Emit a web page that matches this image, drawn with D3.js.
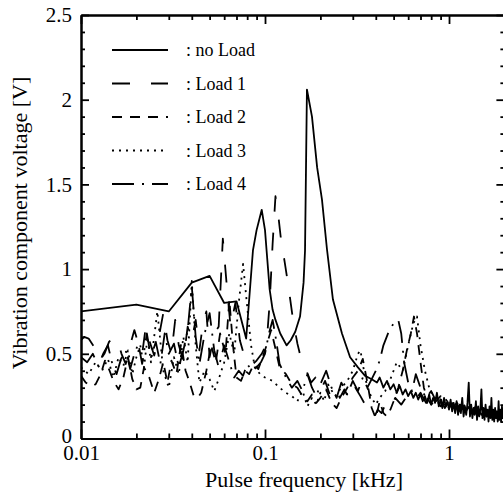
<!DOCTYPE html>
<html><head><meta charset="utf-8">
<script src="https://cdn.jsdelivr.net/npm/d3@7"></script>
<style>
html,body{margin:0;padding:0;background:#fff;}
svg{display:block;}
text{font-family:'Liberation Serif','Times New Roman',Times,serif;}
</style></head>
<body><svg id="c" width="503" height="495"></svg>
<script>
// ---------- data (frequency kHz, voltage V) ----------
const seriesNames = ["no Load", "Load 1", "Load 2", "Load 3", "Load 4"];
const xTickValues = [0.01, 0.1, 1];
const xTickLabels = ["0.01", "0.1", "1"];
const yTickValues = [0, 0.5, 1, 1.5, 2, 2.5];
const yTickLabels = ["0", "0.5", "1", "1.5", "2", "2.5"];

const noLoad = [
[0.010,0.75],[0.020,0.79],[0.030,0.75],[0.040,0.92],[0.050,0.96],[0.060,0.80],[0.070,0.81],[0.079,0.59],[0.086,1.11],[0.090,1.23],[0.096,1.35],[0.100,1.23],[0.102,1.11],[0.106,0.88],[0.110,0.76],[0.114,0.70],[0.121,0.62],[0.131,0.55],[0.138,0.58],[0.146,0.63],[0.155,0.72],[0.162,0.92],[0.165,1.11],[0.169,2.06],[0.180,1.90],[0.192,1.60],[0.204,1.41],[0.217,1.12],[0.234,0.82],[0.262,0.62],[0.290,0.48],[0.320,0.42],[0.350,0.37],[0.380,0.35],[0.406,0.33],[0.42,0.36],[0.44,0.30],[0.46,0.34],[0.48,0.29],[0.50,0.32],[0.52,0.27],[0.54,0.31],[0.56,0.26],[0.58,0.29],[0.60,0.25],[0.62,0.28],[0.64,0.24],[0.66,0.27],[0.68,0.23],[0.70,0.26],[0.72,0.22],[0.74,0.25],[0.76,0.21],[0.78,0.26],[0.80,0.20],[0.82,0.24],[0.84,0.21],[0.86,0.27],[0.88,0.19],[0.90,0.23],[0.92,0.18],[0.94,0.24],[0.96,0.19],[0.98,0.22],[1.00,0.17],[1.02,0.23],[1.04,0.16],[1.06,0.21],[1.08,0.15],[1.10,0.22],[1.12,0.14],[1.14,0.20],[1.16,0.15],[1.18,0.24],[1.20,0.13],[1.22,0.19],[1.24,0.14],[1.26,0.21],[1.28,0.33],[1.30,0.13],[1.32,0.20],[1.34,0.12],[1.36,0.18],[1.38,0.14],[1.40,0.22],[1.42,0.11],[1.44,0.19],[1.46,0.13],[1.48,0.17],[1.50,0.29],[1.52,0.12],[1.54,0.18],[1.56,0.11],[1.58,0.20],[1.60,0.13],[1.62,0.17],[1.64,0.10],[1.66,0.19],[1.68,0.12],[1.70,0.24],[1.72,0.11],[1.74,0.17],[1.76,0.10],[1.78,0.18],[1.80,0.12],[1.82,0.16],[1.84,0.10],[1.86,0.22],[1.88,0.11],[1.90,0.17],[1.92,0.10],[1.94,0.19],[1.96,0.12],[1.98,0.16],[2.00,0.11]
];

const load1 = [
[0.0100,0.58],[0.0104,0.60],[0.0110,0.59],[0.0118,0.54],[0.0126,0.46],[0.0134,0.50],[0.0142,0.57],[0.0150,0.60],[0.0158,0.58],[0.0166,0.50],[0.0175,0.44],[0.0185,0.55],[0.0195,0.64],[0.0205,0.56],[0.0215,0.50],[0.0225,0.66],[0.0238,0.56],[0.0250,0.49],[0.0265,0.60],[0.0280,0.74],[0.0295,0.58],[0.0310,0.50],[0.0325,0.70],[0.0340,0.55],[0.0360,0.46],[0.0380,0.66],[0.0400,0.58],[0.0420,0.70],[0.0440,0.52],[0.0460,0.68],[0.0480,0.75],[0.0500,0.48],[0.0530,0.62],[0.0560,0.66],[0.0590,1.18],[0.0620,0.90],[0.0650,0.66],[0.0690,0.80],[0.0730,0.58],[0.0780,0.47],[0.0840,0.43],[0.0900,0.46],[0.0960,0.50],[0.1020,0.56],[0.1060,0.80],[0.1100,1.15],[0.1140,1.43],[0.1180,1.32],[0.1220,1.18],[0.1280,1.04],[0.1340,0.90],[0.1420,0.70],[0.1500,0.56],[0.1580,0.46],[0.1680,0.40],[0.1780,0.33],[0.1880,0.36],[0.2000,0.28],[0.2120,0.34],[0.2250,0.26],[0.2400,0.31],[0.2550,0.24],[0.2700,0.29],[0.2900,0.22],[0.3100,0.30],[0.3300,0.25],[0.3500,0.20],[0.3700,0.16],[0.3900,0.12],[0.4100,0.17],[0.4300,0.15],[0.4500,0.20],[0.4800,0.17],[0.5100,0.24],[0.5500,0.20],[0.6000,0.26],[0.6500,0.22],[0.7000,0.27],[0.7500,0.21],[0.8000,0.25],[0.8500,0.20],[0.9000,0.23],[0.9500,0.18],[1.00,0.22],[1.05,0.17],[1.10,0.21],[1.15,0.16],[1.20,0.19],[1.30,0.15],[1.40,0.18],[1.50,0.14],[1.60,0.17],[1.70,0.13],[1.80,0.16],[1.90,0.12],[2.00,0.14]
];

const load2 = [
[0.0100,0.37],[0.0106,0.33],[0.0113,0.31],[0.0120,0.32],[0.0128,0.38],[0.0135,0.46],[0.0143,0.40],[0.0150,0.34],[0.0160,0.29],[0.0170,0.36],[0.0180,0.48],[0.0190,0.35],[0.0200,0.29],[0.0210,0.30],[0.0220,0.42],[0.0235,0.36],[0.0250,0.27],[0.0265,0.35],[0.0280,0.45],[0.0295,0.33],[0.0310,0.46],[0.0330,0.38],[0.0350,0.56],[0.0370,0.40],[0.0390,0.33],[0.0410,0.25],[0.0430,0.24],[0.0450,0.27],[0.0480,0.40],[0.0510,0.55],[0.0540,0.45],[0.0570,0.62],[0.0610,0.50],[0.0640,0.82],[0.0670,0.55],[0.0700,0.36],[0.0740,0.34],[0.0780,0.40],[0.0820,0.38],[0.0870,0.44],[0.0920,0.41],[0.0970,0.48],[0.1020,0.55],[0.1080,0.64],[0.1140,0.53],[0.1200,0.42],[0.1300,0.38],[0.1400,0.32],[0.1500,0.30],[0.1600,0.25],[0.1700,0.22],[0.1800,0.26],[0.1900,0.21],[0.2000,0.24],[0.2150,0.29],[0.2300,0.21],[0.2450,0.18],[0.2600,0.24],[0.2800,0.30],[0.3000,0.36],[0.3200,0.40],[0.3400,0.47],[0.3600,0.33],[0.3800,0.18],[0.4000,0.12],[0.4200,0.22],[0.4400,0.15],[0.4600,0.13],[0.4800,0.17],[0.5000,0.22],[0.5300,0.30],[0.5600,0.40],[0.5900,0.52],[0.6200,0.62],[0.6450,0.72],[0.6700,0.62],[0.7000,0.45],[0.7300,0.30],[0.7600,0.24],[0.8000,0.20],[0.8500,0.23],[0.9000,0.19],[0.9500,0.22],[1.00,0.18],[1.05,0.21],[1.10,0.16],[1.15,0.20],[1.20,0.15],[1.30,0.19],[1.40,0.14],[1.50,0.18],[1.60,0.13],[1.70,0.17],[1.80,0.12],[1.90,0.16],[2.00,0.13]
];

const load3 = [
[0.010,0.42],[0.011,0.38],[0.012,0.45],[0.013,0.40],[0.014,0.47],[0.015,0.36],[0.016,0.48],[0.017,0.43],[0.018,0.52],[0.019,0.38],[0.020,0.48],[0.021,0.55],[0.022,0.42],[0.023,0.60],[0.024,0.45],[0.026,0.75],[0.028,0.40],[0.030,0.30],[0.032,0.48],[0.034,0.38],[0.036,0.60],[0.038,0.45],[0.040,0.93],[0.042,0.55],[0.044,0.33],[0.047,0.40],[0.050,0.35],[0.053,0.28],[0.056,0.35],[0.060,0.45],[0.064,0.62],[0.068,0.50],[0.072,0.80],[0.076,1.03],[0.080,0.78],[0.084,0.55],[0.088,0.42],[0.094,0.38],[0.100,0.36],[0.110,0.34],[0.120,0.30],[0.130,0.27],[0.140,0.25],[0.150,0.22],[0.160,0.28],[0.170,0.19],[0.180,0.24],[0.190,0.20],[0.200,0.27],[0.210,0.22],[0.220,0.32],[0.240,0.25],[0.260,0.30],[0.280,0.34],[0.300,0.40],[0.320,0.50],[0.330,0.52],[0.345,0.40],[0.360,0.30],[0.380,0.24],[0.400,0.20],[0.420,0.24],[0.450,0.28],[0.480,0.35],[0.520,0.45],[0.560,0.40],[0.600,0.55],[0.640,0.68],[0.670,0.72],[0.700,0.55],[0.740,0.40],[0.780,0.30],[0.820,0.25],[0.880,0.22],[0.950,0.24],[1.00,0.20],[1.10,0.21],[1.20,0.17],[1.30,0.19],[1.40,0.15],[1.50,0.17],[1.60,0.14],[1.70,0.16],[1.80,0.13],[1.90,0.15],[2.00,0.13]
];

const load4 = [
[0.0100,0.48],[0.0108,0.45],[0.0116,0.50],[0.0124,0.43],[0.0132,0.50],[0.0140,0.55],[0.0148,0.44],[0.0156,0.38],[0.0165,0.47],[0.0175,0.52],[0.0185,0.41],[0.0195,0.50],[0.0205,0.56],[0.0215,0.44],[0.0228,0.62],[0.0240,0.48],[0.0255,0.57],[0.0270,0.44],[0.0285,0.62],[0.0300,0.50],[0.0320,0.56],[0.0340,0.42],[0.0360,0.52],[0.0380,0.64],[0.0400,0.90],[0.0420,0.60],[0.0440,0.44],[0.0470,0.62],[0.0500,0.74],[0.0530,0.52],[0.0560,0.42],[0.0600,0.55],[0.0640,0.45],[0.0680,0.36],[0.0720,0.40],[0.0760,0.37],[0.0800,0.44],[0.0850,0.40],[0.0900,0.42],[0.0950,0.45],[0.1000,0.50],[0.1050,0.62],[0.1100,0.70],[0.1150,0.58],[0.1200,0.44],[0.1300,0.36],[0.1400,0.30],[0.1500,0.34],[0.1600,0.28],[0.1700,0.38],[0.1800,0.30],[0.1900,0.25],[0.2000,0.32],[0.2150,0.40],[0.2300,0.30],[0.2450,0.24],[0.2600,0.33],[0.2800,0.26],[0.3000,0.34],[0.3200,0.28],[0.3400,0.36],[0.3600,0.30],[0.3800,0.35],[0.4000,0.40],[0.4200,0.46],[0.4400,0.55],[0.4700,0.63],[0.5000,0.68],[0.5300,0.70],[0.5500,0.62],[0.5700,0.45],[0.6000,0.33],[0.6300,0.28],[0.6600,0.38],[0.7000,0.30],[0.7500,0.24],[0.8000,0.28],[0.8500,0.22],[0.9000,0.25],[0.9500,0.20],[1.00,0.23],[1.05,0.18],[1.10,0.21],[1.15,0.16],[1.20,0.20],[1.30,0.15],[1.40,0.19],[1.50,0.14],[1.60,0.17],[1.70,0.13],[1.80,0.16],[1.90,0.12],[2.00,0.15]
];

// ---------- drawing ----------
const FONT = "'Liberation Serif','Times New Roman',Times,serif";
const svg = d3.select("#c");
const L = 81, R = 504.4, T = 15, B = 438.5;
const x = d3.scaleLog().domain([0.01, 2]).range([L, R]);
const y = d3.scaleLinear().domain([0, 2.5]).range([B, T]);

const dashes = ["none", "18,21", "10,8", "2,5", "22,8,2,8"];
const allSeries = [noLoad, load1, load2, load3, load4];

svg.append("clipPath").attr("id", "clip").append("rect")
  .attr("x", L).attr("y", T).attr("width", R - L).attr("height", B - T);

const line = d3.line().x(d => x(d[0])).y(d => y(d[1]));
const g = svg.append("g").attr("clip-path", "url(#clip)");
[4,3,2,1,0].forEach(i => {
  g.append("path").datum(allSeries[i])
    .attr("d", line).attr("fill", "none").attr("stroke", "#000")
    .attr("stroke-width", 1.8).attr("stroke-linejoin", "round")
    .attr("stroke-dasharray", dashes[i]);
});

const minorY = d3.range(0, 25).map(i => i / 10).filter(v => Math.abs(v * 2 - Math.round(v * 2)) > 1e-6);
const minorX = [0.02,0.03,0.04,0.05,0.06,0.07,0.08,0.09,0.2,0.3,0.4,0.5,0.6,0.7,0.8,0.9];

function style(sel) {
  sel.attr("font-family", FONT);
  sel.selectAll("path.domain").attr("stroke", "#000").attr("stroke-width", 2);
  sel.selectAll(".tick line").attr("stroke", "#000").attr("stroke-width", 1.8);
  sel.selectAll(".tick text").attr("fill", "#000").attr("font-size", 21).attr("font-family", FONT);
}

const yFmt = d => yTickLabels[yTickValues.indexOf(d)];
const xFmt = d => xTickLabels[xTickValues.indexOf(d)];

svg.append("g").attr("transform", `translate(${L},0)`)
  .call(d3.axisLeft(y).tickValues(minorY).tickSize(-4).tickSizeOuter(0).tickFormat(""))
  .call(style);
const yAx = svg.append("g").attr("transform", `translate(${L},0)`)
  .call(d3.axisLeft(y).tickValues(yTickValues).tickSize(-8).tickSizeOuter(0).tickPadding(9).tickFormat(yFmt))
  .call(style);
// the "0" label sits slightly above its tick in the reference
yAx.selectAll(".tick text").filter(d => d === 0).attr("y", -3);
svg.append("g").attr("transform", `translate(${R},0)`)
  .call(d3.axisRight(y).tickValues(minorY).tickSize(-4).tickSizeOuter(0).tickFormat(""))
  .call(style);
svg.append("g").attr("transform", `translate(${R},0)`)
  .call(d3.axisRight(y).tickValues(yTickValues).tickSize(-8).tickSizeOuter(0).tickFormat(""))
  .call(style);

svg.append("g").attr("transform", `translate(0,${B})`)
  .call(d3.axisBottom(x).tickValues(minorX).tickSize(-5).tickSizeOuter(0).tickFormat(""))
  .call(style);
svg.append("g").attr("transform", `translate(0,${B})`)
  .call(d3.axisBottom(x).tickValues(xTickValues).tickSize(-9).tickSizeOuter(0).tickPadding(7).tickFormat(xFmt))
  .call(style);
svg.append("g").attr("transform", `translate(0,${T})`)
  .call(d3.axisTop(x).tickValues(minorX).tickSize(-5).tickSizeOuter(0).tickFormat(""))
  .call(style);
svg.append("g").attr("transform", `translate(0,${T})`)
  .call(d3.axisTop(x).tickValues(xTickValues).tickSize(-9).tickSizeOuter(0).tickFormat(""))
  .call(style);

svg.append("text").attr("x", 304).attr("y", 487).attr("text-anchor", "middle")
  .attr("font-family", FONT).attr("font-size", 22).text("Pulse frequency [kHz]");
svg.append("text").attr("transform", "translate(27,223) rotate(-90)").attr("text-anchor", "middle")
  .attr("font-family", FONT).attr("font-size", 22).text("Vibration component voltage [V]");

const rowY = [50, 83.5, 117, 150.5, 184];
seriesNames.forEach((name, i) => {
  svg.append("line").attr("x1", 112).attr("x2", 168).attr("y1", rowY[i]).attr("y2", rowY[i])
    .attr("stroke", "#000").attr("stroke-width", 1.8).attr("stroke-dasharray", dashes[i]);
  svg.append("text").attr("x", 186).attr("y", rowY[i]).attr("dy", "0.35em")
    .attr("font-family", FONT).attr("font-size", 18).text(": " + name);
});
</script></body></html>
